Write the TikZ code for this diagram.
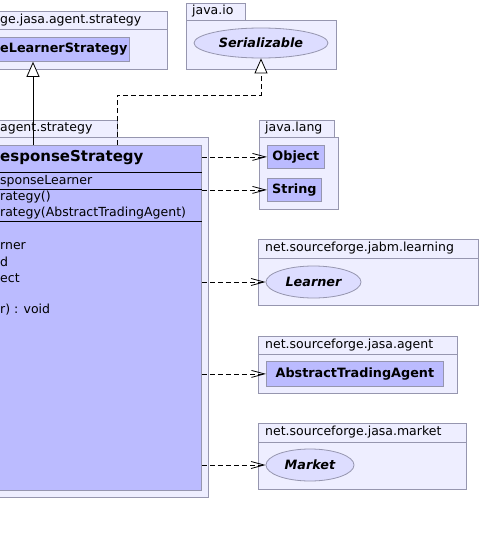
\documentclass[tikz,border=0pt]{standalone}
\usepackage{fontspec}
\setmainfont{DejaVu Sans}
\usetikzlibrary{arrows.meta,calc,shapes.geometric}
\definecolor{pkgfill}{RGB}{238,238,255}
\definecolor{pkgline}{RGB}{150,150,175}
\definecolor{clsfill}{RGB}{187,187,255}
\definecolor{ellfill}{RGB}{221,221,255}
\begin{document}
\begin{tikzpicture}[x=1pt,y=-1pt,
  pkg/.style={draw=pkgline,fill=pkgfill,line width=0.8pt,inner sep=0pt,anchor=north west},
  cls/.style={draw=pkgline,fill=clsfill,line width=0.8pt,inner sep=0pt,anchor=north west,
     font=\fontsize{12.8}{15}\selectfont\bfseries},
  ell/.style={ellipse,draw=pkgline,fill=ellfill,line width=0.8pt,inner sep=0pt,
     font=\fontsize{12.8}{15}\selectfont\bfseries\itshape},
  lbl/.style={inner sep=0pt,anchor=west,font=\fontsize{12.5}{15}\selectfont},
  memb/.style={inner sep=0pt,anchor=west,font=\fontsize{12.5}{15}\selectfont},
  dep/.style={draw,dash pattern=on 5pt off 3pt,line width=0.8pt,
     -{Straight Barb[length=13pt,width=7pt,line width=0.8pt]}},
  gen/.style={draw,line width=0.8pt,-{Triangle[open,length=15pt,width=13pt,fill=white,line width=0.8pt]}},
  real/.style={draw,dash pattern=on 5pt off 3pt,line width=0.8pt,
     -{Triangle[open,length=15pt,width=13pt,fill=white,line width=0.8pt]}}]
\useasboundingbox (0,0) rectangle (480,535);

% package: ...jasa.agent.strategy (top left)
\node[pkg,minimum width=168pt,minimum height=18pt] (pAtab) at (-1,11) {};
\node[pkg,minimum width=168pt,minimum height=40pt] (pAbody) at (-1,29) {};
\node[lbl] (pAlbl) at (0,20) {ge.jasa.agent.strategy};
\node[cls,minimum width=130pt,minimum height=24pt] (els) at (-1,37) {};
\node[memb,font=\fontsize{12.8}{15}\selectfont\bfseries] (elsname) at (0,49) {eLearnerStrategy};

% package java.io
\node[pkg,minimum width=59pt,minimum height=17pt] (iotab) at (186,3) {};
\node[pkg,minimum width=150pt,minimum height=49pt] (iobody) at (186,20) {};
\node[lbl] (iolbl) at (192,11.5) {java.io};
\node[ell,minimum width=134pt,minimum height=30pt] (ser) at (261,43) {Serializable};

% main package
\node[pkg,minimum width=118pt,minimum height=17pt] (pmtab) at (-1,120) {};
\node[pkg,minimum width=209pt,minimum height=360pt] (pmbody) at (-1,137) {};
\node[lbl] (pmlbl) at (0,128.5) {agent.strategy};
\node[cls,minimum width=202pt,minimum height=345pt] (rs) at (-1,145) {};
\draw ([yshift=-27pt]rs.north west) -- ([yshift=-27pt]rs.north east);
\draw ([yshift=-44pt]rs.north west) -- ([yshift=-44pt]rs.north east);
\draw ([yshift=-76pt]rs.north west) -- ([yshift=-76pt]rs.north east);
\node[memb,font=\fontsize{15}{18}\selectfont\bfseries] (rsname) at (0,158) {esponseStrategy};
\node[memb] (m1) at (0,181) {sponseLearner};
\node[memb] (m2) at (0,197) {rategy()};
\node[memb] (m3) at (0,213) {rategy(AbstractTradingAgent)};
\node[memb] (m4) at (0,246) {rner};
\node[memb] (m5) at (0,262) {d};
\node[memb] (m6) at (0,278) {ect};
\node[memb] (m7) at (0,310) {r) : void};

% package java.lang
\node[pkg,minimum width=75pt,minimum height=17pt] (langtab) at (259,120) {};
\node[pkg,minimum width=79pt,minimum height=72pt] (langbody) at (259,137) {};
\node[lbl] (langlbl) at (265,128.5) {java.lang};
\node[cls,minimum width=57pt,minimum height=23pt] (obj) at (267,145) {Object};
\node[cls,minimum width=54pt,minimum height=23pt] (str) at (267,178) {String};

% package net.sourceforge.jabm.learning
\node[pkg,minimum width=220pt,minimum height=19pt] (lrntab) at (258,239) {};
\node[pkg,minimum width=220pt,minimum height=47pt] (lrnbody) at (258,258) {};
\node[lbl] (lrnlbl) at (265,248.5) {net.sourceforge.jabm.learning};
\node[ell,minimum width=95pt,minimum height=32pt] (learner) at (313.5,282) {Learner};

% package net.sourceforge.jasa.agent
\node[pkg,minimum width=199pt,minimum height=18pt] (agtab) at (258,336) {};
\node[pkg,minimum width=199pt,minimum height=39pt] (agbody) at (258,354) {};
\node[lbl] (aglbl) at (265,345) {net.sourceforge.jasa.agent};
\node[cls,minimum width=177pt,minimum height=25pt] (ata) at (266,361) {AbstractTradingAgent};

% package net.sourceforge.jasa.market
\node[pkg,minimum width=208pt,minimum height=19pt] (mktab) at (258,423) {};
\node[pkg,minimum width=208pt,minimum height=47pt] (mkbody) at (258,442) {};
\node[lbl] (mklbl) at (265,432.5) {net.sourceforge.jasa.market};
\node[ell,minimum width=88pt,minimum height=32pt] (market) at (310,465) {Market};

% connectors
\draw[gen] ([xshift=34pt]rs.north west) -- ([xshift=34pt]els.south west);
\draw[real] ([xshift=118pt]rs.north west) -- ++(0,-50) -| (ser.south);
\draw[dep] (rs.east |- obj.west) -- (obj.west);
\draw[dep] (rs.east |- str.west) -- (str.west);
\draw[dep] (rs.east |- learner.west) -- (learner.west);
\draw[dep] (rs.east |- ata.west) -- (ata.west);
\draw[dep] (rs.east |- market.west) -- (market.west);
\end{tikzpicture}
\end{document}
